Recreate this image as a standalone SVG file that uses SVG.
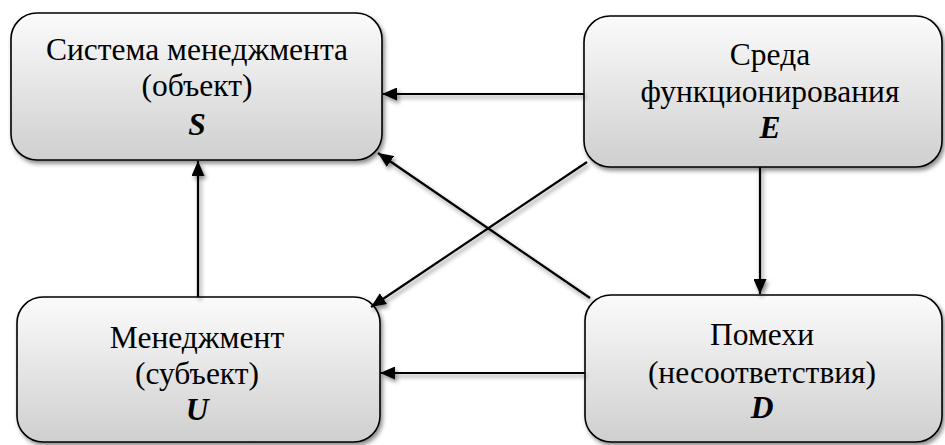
<svg xmlns="http://www.w3.org/2000/svg" width="945" height="445" viewBox="0 0 945 445">
  <defs>
    <linearGradient id="boxFill" x1="0" y1="0" x2="0" y2="1">
      <stop offset="0" stop-color="#fbfbfb"/>
      <stop offset="1" stop-color="#cfcfcf"/>
    </linearGradient>
    <filter id="shadow" x="-10%" y="-10%" width="125%" height="130%">
      <feDropShadow dx="2" dy="3" stdDeviation="2.2" flood-color="#000" flood-opacity="0.45"/>
    </filter>
    <marker id="arrow" viewBox="0 0 15 13" refX="15" refY="6.5" markerWidth="15" markerHeight="13" markerUnits="userSpaceOnUse" orient="auto">
      <path d="M0,0 L15,6.5 L0,13 Z" fill="#000"/>
    </marker>
  </defs>
  <style>
    .box { fill: url(#boxFill); stroke: #000; stroke-width: 1.6; filter: url(#shadow); }
    .lbl { font-family: "Liberation Serif", "Times New Roman", serif; font-size: 31.5px; fill: #000; text-anchor: middle; }
    .sym { font-weight: bold; font-style: italic; }
    .conn { stroke: #000; stroke-width: 2.2; fill: none; marker-end: url(#arrow); }
    .conns { filter: url(#shadow); }
  </style>
  <rect width="945" height="445" fill="#fff"/>

  <g id="node-S">
    <rect class="box" x="11" y="13" width="371" height="147" rx="26"/>
    <text class="lbl" x="197" y="60">Система менеджмента</text>
    <text class="lbl" x="197" y="96">(объект)</text>
    <text class="lbl sym" x="197" y="135">S</text>
  </g>

  <g id="node-E">
    <rect class="box" x="584" y="16" width="358" height="151" rx="26"/>
    <text class="lbl" x="770" y="65">Среда</text>
    <text class="lbl" x="770" y="102">функционирования</text>
    <text class="lbl sym" x="770" y="138">E</text>
  </g>

  <g id="node-U">
    <rect class="box" x="17" y="297" width="363" height="145" rx="26"/>
    <text class="lbl" x="197" y="348">Менеджмент</text>
    <text class="lbl" x="197" y="384">(субъект)</text>
    <text class="lbl sym" x="197" y="420">U</text>
  </g>

  <g id="node-D">
    <rect class="box" x="585" y="295" width="357" height="147" rx="26"/>
    <text class="lbl" x="762" y="345">Помехи</text>
    <text class="lbl" x="762" y="383">(несоответствия)</text>
    <text class="lbl sym" x="762" y="418">D</text>
  </g>

  <g id="connectors" class="conns">
    <line class="conn" x1="584" y1="94" x2="382" y2="94"/>
    <line class="conn" x1="587" y1="162" x2="371" y2="307"/>
    <line class="conn" x1="590" y1="298" x2="378" y2="153"/>
    <line class="conn" x1="760" y1="167" x2="760" y2="294"/>
    <line class="conn" x1="198" y1="297" x2="198" y2="161"/>
    <line class="conn" x1="585" y1="373" x2="380" y2="373"/>
  </g>
</svg>
